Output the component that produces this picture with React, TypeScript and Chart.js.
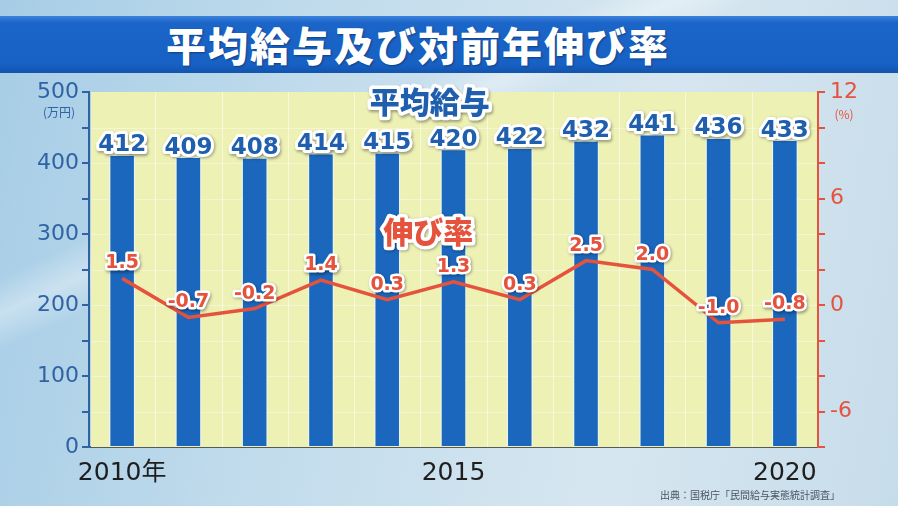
import React, { useEffect, useRef } from "react";
import { Chart, registerables } from "chart.js";

Chart.register(...registerables);

const years = ["2010", "2011", "2012", "2013", "2014", "2015", "2016", "2017", "2018", "2019", "2020"];
const xTickLabels = ["2010年", "", "", "", "", "2015", "", "", "", "", "2020"];
const salary = [412, 409, 408, 414, 415, 420, 422, 432, 441, 436, 433];
const growth = [1.5, -0.7, -0.2, 1.4, 0.3, 1.3, 0.3, 2.5, 2.0, -1.0, -0.8];
const leftLabelTicks = [0, 100, 200, 300, 400, 500];
const rightLabelTicks = [-6, 0, 6, 12];
const rightMinorTicks = [-8, -6, -4, -2, 0, 2, 4, 6, 8, 10, 12];
const title = "平均給与及び対前年伸び率";
const salaryName = "平均給与";
const growthName = "伸び率";
const leftUnit = "(万円)";
const rightUnit = "(%)";
const source = "出典：国税庁「民間給与実態統計調査」";

const JP = '"Noto Sans CJK JP", "Noto Sans", sans-serif';
const NUM = '"DejaVu Sans", "Noto Sans CJK JP", sans-serif';
const BLUE = "#1b67bd";
const BLUE_TEXT = "#1f5fae";
const AXIS_BLUE = "#2f63a3";
const RED = "#e5533d";

function outlined(ctx: CanvasRenderingContext2D, text: string, x: number, y: number, font: string, fill: string, stroke: number) {
  ctx.save();
  ctx.font = font;
  ctx.textAlign = "center";
  ctx.textBaseline = "alphabetic";
  ctx.lineJoin = "round";
  ctx.shadowColor = "rgba(0,0,0,0.35)";
  ctx.shadowBlur = 3;
  ctx.shadowOffsetX = 1;
  ctx.shadowOffsetY = 1.5;
  ctx.strokeStyle = "#ffffff";
  ctx.lineWidth = stroke;
  ctx.strokeText(text, x, y);
  ctx.shadowColor = "transparent";
  ctx.fillStyle = fill;
  ctx.fillText(text, x, y);
  ctx.restore();
}

const backgroundPlugin = {
  id: "plotBg",
  beforeDatasetsDraw(chart: any) {
    const { ctx, chartArea } = chart;
    const { left, right, top, bottom } = chartArea;
    ctx.save();
    ctx.fillStyle = "#edf1b4";
    ctx.fillRect(left + 2, top, right - left - 3, bottom - top);
    const xs = chart.scales.x;
    const ys = chart.scales.y;
    ctx.strokeStyle = "rgba(255,255,255,0.35)";
    ctx.lineWidth = 1;
    for (let v = 50; v < 500; v += 50) {
      const y = Math.round(ys.getPixelForValue(v)) + 0.5;
      ctx.beginPath();
      ctx.moveTo(left + 2, y);
      ctx.lineTo(right - 1, y);
      ctx.stroke();
    }
    ctx.strokeStyle = "rgba(255,255,255,0.55)";
    for (let i = 0; i < years.length - 1; i++) {
      const x = Math.round(xs.getPixelForValue(i + 0.5)) + 0.5;
      ctx.beginPath();
      ctx.moveTo(x, top);
      ctx.lineTo(x, bottom);
      ctx.stroke();
    }
    ctx.restore();
  },
};

const labelPlugin = {
  id: "labels",
  afterDatasetsDraw(chart: any) {
    const { ctx } = chart;
    const xs = chart.scales.x;
    const ys = chart.scales.y;
    const y1 = chart.scales.y1;
    const barMeta = chart.getDatasetMeta(1);
    barMeta.data.forEach((bar: any, i: number) => {
      outlined(ctx, String(salary[i]), bar.x, bar.y - 3, `bold 23px ${NUM}`, BLUE_TEXT, 6);
    });
    const lineMeta = chart.getDatasetMeta(0);
    lineMeta.data.forEach((pt: any, i: number) => {
      outlined(ctx, growth[i].toFixed(1), pt.x, pt.y - 10, `bold 19px ${NUM}`, RED, 5);
    });
    outlined(ctx, salaryName, xs.getPixelForValue(4.64), ys.getPixelForValue(470), `900 30px ${JP}`, BLUE_TEXT, 7);
    outlined(ctx, growthName, xs.getPixelForValue(4.62), y1.getPixelForValue(3.5), `900 30px ${JP}`, RED, 7);
    ctx.save();
    ctx.font = `12px ${JP}`;
    ctx.textAlign = "center";
    ctx.fillStyle = AXIS_BLUE;
    ctx.fillText(leftUnit, ys.left + 59, ys.getPixelForValue(465));
    ctx.fillStyle = RED;
    ctx.fillText(rightUnit, y1.left + 26, y1.getPixelForValue(10.5));
    ctx.restore();
  },
};

export default function App() {
  const ref = useRef<HTMLCanvasElement | null>(null);

  useEffect(() => {
    if (!ref.current) return;
    const chart = new Chart(ref.current, {
      data: {
        labels: years,
        datasets: [
          {
            type: "line",
            data: growth,
            yAxisID: "y1",
            borderColor: RED,
            borderWidth: 3.5,
            pointRadius: 0,
            tension: 0,
            order: 0,
          },
          {
            type: "bar",
            data: salary,
            yAxisID: "y",
            backgroundColor: BLUE,
            borderColor: "rgba(232,244,240,0.9)",
            borderWidth: 1.5,
            barPercentage: 0.4,
            categoryPercentage: 1,
            order: 1,
          },
        ],
      } as any,
      plugins: [backgroundPlugin, labelPlugin],
      options: {
        animation: false,
        responsive: true,
        maintainAspectRatio: false,
        layout: { padding: { top: 92, left: 0, right: 0, bottom: 0 } },
        plugins: { legend: { display: false }, tooltip: { enabled: false } },
        scales: {
          x: {
            offset: true,
            grid: { display: false },
            border: { color: "#555a5e", width: 2 },
            ticks: {
              autoSkip: false,
              maxRotation: 0,
              padding: 3,
              color: "#1e1e1e",
              font: { family: NUM, size: 25 },
              callback: (_v: any, i: number) => xTickLabels[i],
            },
            afterFit: (s: any) => {
              s.height = 59;
            },
          },
          y: {
            position: "left",
            min: 0,
            max: 500,
            grid: { drawOnChartArea: false, drawTicks: true, tickLength: 7, color: AXIS_BLUE, lineWidth: 2 },
            border: { color: AXIS_BLUE, width: 2 },
            ticks: {
              stepSize: 50,
              padding: 3,
              color: AXIS_BLUE,
              font: { family: NUM, size: 22 },
              callback: (v: any) => (leftLabelTicks.includes(v) ? String(v) : ""),
            },
            afterFit: (s: any) => {
              s.width = 89;
            },
          },
          y1: {
            position: "right",
            min: -8,
            max: 12,
            grid: { drawOnChartArea: false, drawTicks: true, tickLength: 7, color: RED, lineWidth: 2 },
            border: { color: RED, width: 2 },
            afterBuildTicks: (s: any) => {
              s.ticks = rightMinorTicks.map((v) => ({ value: v }));
            },
            ticks: {
              padding: 5,
              color: RED,
              font: { family: NUM, size: 22 },
              callback: (v: any) => (rightLabelTicks.includes(v) ? String(v) : ""),
            },
            afterFit: (s: any) => {
              s.width = 80;
            },
          },
        },
      } as any,
    });
    return () => chart.destroy();
  }, []);

  return (
    <div
      style={{
        position: "fixed",
        left: 0,
        top: 0,
        width: 898,
        height: 506,
        overflow: "hidden",
        background:
          "linear-gradient(155deg, rgba(255,255,255,0) 30%, rgba(255,255,255,0.35) 34%, rgba(255,255,255,0) 38%), linear-gradient(100deg, #a6cde6 0%, #c2dcec 35%, #d6e6f0 70%, #c7dcea 100%)",
      }}
    >
      <div
        style={{
          position: "absolute",
          left: 0,
          top: 16,
          width: 898,
          height: 57,
          background: "linear-gradient(180deg, #3c82dc 0%, #1b64c8 12%, #1760c4 85%, #1254ad 100%)",
        }}
      >
        <div
          style={{
            position: "absolute",
            left: 166,
            top: 0,
            height: 57,
            lineHeight: "57px",
            color: "#ffffff",
            fontFamily: JP,
            fontWeight: 900,
            fontSize: 40,
            letterSpacing: 2,
            textShadow: "1px 1px 2px rgba(0,0,0,0.35)",
            whiteSpace: "nowrap",
          }}
        >
          {title}
        </div>
      </div>
      <canvas ref={ref} style={{ position: "absolute", left: 0, top: 0, width: 898, height: 506 }} />
      <div
        style={{
          position: "absolute",
          right: 58,
          top: 487,
          fontFamily: JP,
          fontSize: 10,
          color: "#4a5560",
          whiteSpace: "nowrap",
        }}
      >
        {source}
      </div>
    </div>
  );
}
